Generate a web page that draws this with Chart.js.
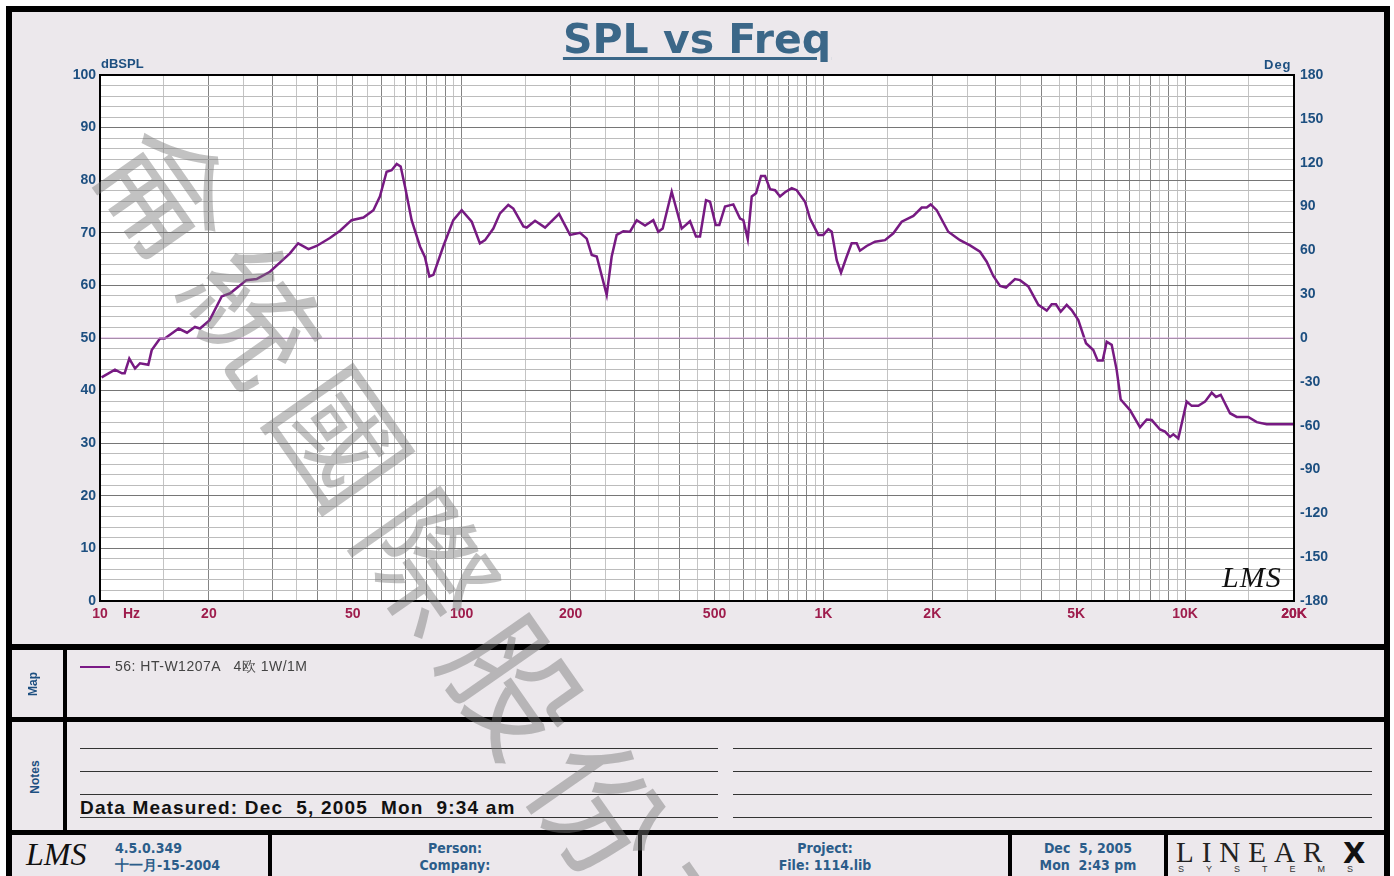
<!DOCTYPE html>
<html>
<head>
<meta charset="utf-8">
<script src="https://cdn.jsdelivr.net/npm/chart.js@4.4.0/dist/chart.umd.min.js"></script>
<style>
  html, body { margin: 0; padding: 0; background: #fff; }
  #page { position: relative; width: 1394px; height: 876px; overflow: hidden; background: #fff; font-family: "Liberation Sans", Arial, sans-serif; }
  #frame { position: absolute; left: 6px; top: 6px; width: 1384px; height: 900px; box-sizing: border-box; border: 6px solid #000; background: #ece8ec; }
  #chartBox { position: absolute; left: 0; top: 0; }
  .bar { position: absolute; background: #000; }
  .lbl { position: absolute; white-space: pre; }
  .blue { color: #1d4f80; font-weight: bold; }
  .side { position: absolute; transform: rotate(-90deg); font-weight: bold; font-size: 12px; color: #1d4f80; white-space: pre; }
  .rule { position: absolute; height: 1px; background: #333; }
  .foot { position: absolute; text-align: center; font-family: "Liberation Sans Narrow", "DejaVu Sans Condensed", sans-serif; font-weight: bold; font-size: 14px; color: #2b5d8a; line-height: 17px; white-space: pre; }
  #title { position: absolute; left: 0; width: 1394px; top: 19px; text-align: center; font-family: "DejaVu Sans", sans-serif; font-weight: bold; font-size: 41px; line-height: 41px; color: #3b6788; }
  #title span { text-decoration: underline; text-decoration-thickness: 3px; text-underline-offset: 4px; }
  #wm { position: absolute; left: 136px; top: 68px; height: 130px; line-height: 130px; font-family: "Noto Sans CJK TC", sans-serif; font-size: 130px; letter-spacing: 21px; color: rgba(120,120,120,0.45); transform-origin: 0 50%; transform: rotate(55deg); white-space: pre; pointer-events: none; }
</style>
</head>
<body>
<div id="page">
  <div id="frame"></div>
  <div id="chartBox"><canvas id="splChart" width="1394" height="640"></canvas></div>

  <div id="title"><span>SPL vs Freq</span></div>
  <div class="lbl blue" style="left:101px; top:56px; font-size:13px;">dBSPL</div>
  <div class="lbl blue" style="left:1264px; top:57px; font-size:13px; letter-spacing:1px;">Deg</div>
  <div class="lbl" style="left:123px; top:605px; font-size:14px; font-weight:bold; color:#9e1c4c;">Hz</div>
  <div class="lbl" style="left:1222px; top:560px; font-family:'Liberation Serif', serif; font-style:italic; font-size:30px; color:#111; letter-spacing:1px;">LMS</div>

  <!-- section dividers -->
  <div class="bar" style="left:6px; top:644px; width:1384px; height:6px;"></div>
  <div class="bar" style="left:6px; top:717px; width:1384px; height:5px;"></div>
  <div class="bar" style="left:6px; top:830px; width:1384px; height:5px;"></div>
  <div class="bar" style="left:63px; top:648px; width:4px; height:184px;"></div>
  <div class="bar" style="left:268px; top:832px; width:4px; height:50px;"></div>
  <div class="bar" style="left:638px; top:832px; width:4px; height:50px;"></div>
  <div class="bar" style="left:1008px; top:832px; width:4px; height:50px;"></div>
  <div class="bar" style="left:1164px; top:832px; width:4px; height:50px;"></div>

  <!-- map -->
  <div class="side" style="left:21px; top:677px;">Map</div>
  <div style="position:absolute; left:80px; top:666px; width:30px; height:2px; background:#7b1a86;"></div>
  <div class="lbl" style="left:115px; top:658px; font-size:14px; letter-spacing:0.5px; color:#444;">56: HT-W1207A   4欧 1W/1M</div>

  <!-- notes -->
  <div class="side" style="left:18px; top:770px;">Notes</div>
  <div class="rule" style="left:80px; top:748px; width:638px;"></div>
  <div class="rule" style="left:80px; top:771px; width:638px;"></div>
  <div class="rule" style="left:80px; top:794px; width:638px;"></div>
  <div class="rule" style="left:80px; top:817px; width:638px;"></div>
  <div class="rule" style="left:733px; top:748px; width:639px;"></div>
  <div class="rule" style="left:733px; top:771px; width:639px;"></div>
  <div class="rule" style="left:733px; top:794px; width:639px;"></div>
  <div class="rule" style="left:733px; top:817px; width:639px;"></div>
  <div class="lbl" style="left:80px; top:797px; font-size:19px; letter-spacing:1.2px; font-weight:bold; color:#111;">Data Measured: Dec  5, 2005  Mon  9:34 am</div>

  <!-- footer -->
  <div class="lbl" style="left:26px; top:836px; font-family:'Liberation Serif', serif; font-style:italic; font-size:32px; color:#111;">LMS</div>
  <div class="foot" style="left:115px; top:840px; text-align:left;">4.5.0.349<br>十一月-15-2004</div>
  <div class="foot" style="left:272px; width:366px; top:840px;">Person:<br>Company:</div>
  <div class="foot" style="left:642px; width:366px; top:840px;">Project:<br>File: 1114.lib</div>
  <div class="foot" style="left:1012px; width:152px; top:840px;">Dec  5, 2005<br>Mon  2:43 pm</div>
  <div class="lbl" style="left:1176px; top:836px; font-family:'Liberation Serif', serif; font-size:29px; color:#222; letter-spacing:8px;">LINEAR</div>
  <div class="lbl" style="left:1343px; top:836px; font-family:'DejaVu Sans', sans-serif; font-weight:bold; font-size:29px; color:#111;">X</div>
  <div class="lbl" style="left:1178px; top:864px; font-size:9px; color:#333; letter-spacing:22px;">SYSTEMS</div>

  <div id="wm">侖統國際股份有限公司</div>
</div>

<script>
// Measured SPL curve
const freqHz = [
  10.1, 11.0, 11.5, 11.7, 12.05, 12.5, 12.9, 13.6, 13.9, 14.65, 15.1, 16.5, 17.4, 18.3, 18.9, 20.1,
  21.7, 22.9, 25.4, 27.1, 29.5, 33.5, 35.3, 37.7, 39.7, 43.2, 46.1, 49.6, 53.5, 57.0, 59.4,
  62.0, 64.0, 66.1, 67.8, 69.7, 72.7, 76.7, 79.1, 81.4, 83.5, 88.9, 94.8, 100, 106.6, 112.3,
  116, 122.3, 127.6, 134.5, 138.9, 148.1, 151.3, 159.5, 170, 185.8, 199.3, 212.4, 221.6, 228.8, 236.2,
  251.7, 259.8, 268.2, 279.8, 292, 304.7, 321.3, 338.6, 349.5, 359.5, 380.7, 405.7, 427.8, 444.4, 455.9,
  473.6, 485.9, 503.8, 515.5, 534.6, 563.6, 588.2, 600.7, 617.8, 633.7, 651.3, 672.3, 689.7, 712, 735,
  758.6, 783.2, 817.3, 843.8, 889.5, 918.3, 968.1, 999.3, 1031.6, 1054.3, 1088.4, 1118.6, 1160, 1197, 1236,
  1262, 1317, 1389, 1480, 1561, 1646, 1773, 1870, 1930, 1980, 2057, 2214, 2386, 2543,
  2710, 2828, 2949, 3078, 3197, 3386, 3495, 3685, 3928, 4144, 4277, 4395, 4529, 4705, 4857,
  5066, 5321, 5573, 5732, 5917, 6070, 6266, 6469, 6636, 7040, 7505, 7832, 8085, 8522, 8801,
  9084, 9278, 9576, 10102, 10428, 10877, 11350, 11845, 12174, 12544, 13310, 13890, 14950, 15777, 16810, 20000
];
const splDb = [
  42.5, 44.0, 43.3, 43.3, 46.1, 44.2, 45.2, 44.9, 47.7, 49.9, 49.9, 51.8, 51.0, 52.1, 51.8, 53.4,
  57.9, 58.5, 61.0, 61.2, 62.6, 66.1, 68.0, 66.9, 67.5, 69.0, 70.4, 72.4, 72.9, 74.3, 76.9,
  81.6, 81.9, 83.1, 82.6, 78.8, 72.4, 67.4, 65.4, 61.7, 62.0, 67.4, 72.4, 74.3, 72.1, 68.0,
  68.6, 70.8, 73.7, 75.3, 74.6, 71.2, 71.0, 72.3, 71.0, 73.6, 69.6, 70.0, 68.9, 65.8, 65.5,
  58.2, 65.5, 69.6, 70.3, 70.2, 72.4, 71.4, 72.4, 70.2, 70.8, 77.8, 70.8, 72.2, 69.3, 69.3,
  76.2, 75.9, 71.5, 71.5, 75.0, 75.4, 72.7, 72.4, 68.8, 76.9, 77.5, 80.8, 80.8, 78.3, 78.1,
  76.9, 77.7, 78.5, 78.1, 75.9, 72.7, 69.6, 69.6, 70.7, 70.2, 64.8, 62.4, 65.5, 68.0, 68.0,
  66.6, 67.5, 68.3, 68.6, 69.9, 72.1, 73.2, 74.8, 74.8, 75.4, 74.3, 70.2, 68.6, 67.6,
  66.4, 64.5, 61.8, 59.9, 59.6, 61.2, 61.0, 59.8, 56.3, 55.2, 56.4, 56.4, 55.0, 56.3, 55.3,
  53.4, 49.0, 47.7, 45.7, 45.7, 49.3, 48.7, 43.9, 38.3, 36.3, 33.0, 34.5, 34.4, 32.6, 32.2,
  31.2, 31.7, 30.9, 37.9, 37.1, 37.1, 37.9, 39.6, 38.8, 39.2, 35.7, 35.0, 35.0, 34.0, 33.6, 33.6
];

// Phase reference line (0 deg)
const phaseFreq = [10, 20000];
const phaseDeg = [0, 0];

// Axis ticks
const xLabelValues = [10, 20, 50, 100, 200, 500, 1000, 2000, 5000, 10000, 20000];
const xLabelTexts = ['10', '20', '50', '100', '200', '500', '1K', '2K', '5K', '10K', '20K'];
const xGridSteps = [1, 1.5, 2, 2.5, 3, 3.5, 4, 4.5, 5, 5.5, 6, 6.5, 7, 7.5, 8, 8.5, 9, 9.5];
const xDecades = [10, 100, 1000, 10000];
const dbLabelStep = 10;
const dbGridStep = 2;
const degTicks = [-180, -150, -120, -90, -60, -30, 0, 30, 60, 90, 120, 150, 180];

const xGrid = [];
xDecades.forEach(d => xGridSteps.forEach(s => {
    const v = Math.round(d * s * 100) / 100;
    if (v <= 20000) xGrid.push(v);
}));
xGrid.push(20000);

const dbGrid = [];
for (let v = 0; v <= 100; v += dbGridStep) dbGrid.push(v);

const splPoints = freqHz.map((f, i) => ({ x: f, y: splDb[i] }));
const phasePoints = phaseFreq.map((f, i) => ({ x: f, y: phaseDeg[i] }));

const blue = '#1d4f80';
const tickFont = { family: 'Liberation Sans', weight: 'bold', size: 14 };

const plotFrame = {
    id: 'plotFrame',
    beforeDraw(chart) {
        const a = chart.chartArea;
        chart.ctx.save();
        chart.ctx.fillStyle = '#fff';
        chart.ctx.fillRect(a.left, a.top, a.right - a.left, a.bottom - a.top);
        chart.ctx.restore();
    },
    afterDraw(chart) {
        const a = chart.chartArea;
        const ctx = chart.ctx;
        ctx.save();
        ctx.strokeStyle = '#000';
        ctx.lineWidth = 2;
        ctx.strokeRect(a.left, a.top, a.right - a.left, a.bottom - a.top);
        ctx.restore();
    }
};

new Chart(document.getElementById('splChart'), {
    type: 'line',
    data: {
        datasets: [{
            label: 'Phase 0',
            data: phasePoints,
            yAxisID: 'y1',
            borderColor: '#d7a6de',
            borderWidth: 1,
            pointRadius: 0
        }, {
            label: '56: HT-W1207A',
            data: splPoints,
            yAxisID: 'y',
            borderColor: '#771a82',
            borderWidth: 2.5,
            pointRadius: 0,
            tension: 0
        }]
    },
    options: {
        responsive: false,
        animation: false,
        layout: { padding: { top: 75, left: 0, right: 0, bottom: 0 } },
        plugins: {
            legend: { display: false },
            tooltip: { enabled: false }
        },
        scales: {
            x: {
                type: 'logarithmic',
                min: 10,
                max: 20000,
                afterBuildTicks: scale => { scale.ticks = xGrid.map(v => ({ value: v })); },
                afterFit: scale => { scale.height = 39; },
                border: { display: false },
                grid: {
                    color: c => (c.tick && Number.isInteger(c.tick.value / Math.pow(10, Math.floor(Math.log10(c.tick.value))))) ? '#848484' : '#c4c4c4',
                    lineWidth: 1,
                    drawTicks: false
                },
                ticks: {
                    autoSkip: false,
                    maxRotation: 0,
                    padding: 5,
                    color: '#9e1c4c',
                    font: tickFont,
                    callback: v => {
                        const i = xLabelValues.indexOf(v);
                        return i >= 0 ? xLabelTexts[i] : '';
                    }
                }
            },
            y: {
                position: 'left',
                min: 0,
                max: 100,
                afterBuildTicks: scale => { scale.ticks = dbGrid.map(v => ({ value: v })); },
                afterFit: scale => { scale.width = 100; },
                border: { display: false },
                grid: {
                    color: c => (c.tick && c.tick.value % dbLabelStep === 0) ? '#767676' : '#bcbcbc',
                    drawTicks: false
                },
                ticks: {
                    autoSkip: false,
                    padding: 4,
                    color: blue,
                    font: tickFont,
                    callback: v => (v % dbLabelStep === 0 ? String(v) : '')
                }
            },
            y1: {
                position: 'right',
                min: -180,
                max: 180,
                afterBuildTicks: scale => { scale.ticks = degTicks.map(v => ({ value: v })); },
                afterFit: scale => { scale.width = 100; },
                border: { display: false },
                grid: { display: false, drawTicks: false },
                ticks: {
                    autoSkip: false,
                    padding: 6,
                    color: blue,
                    font: tickFont
                }
            }
        }
    },
    plugins: [plotFrame]
});
</script>
</body>
</html>
